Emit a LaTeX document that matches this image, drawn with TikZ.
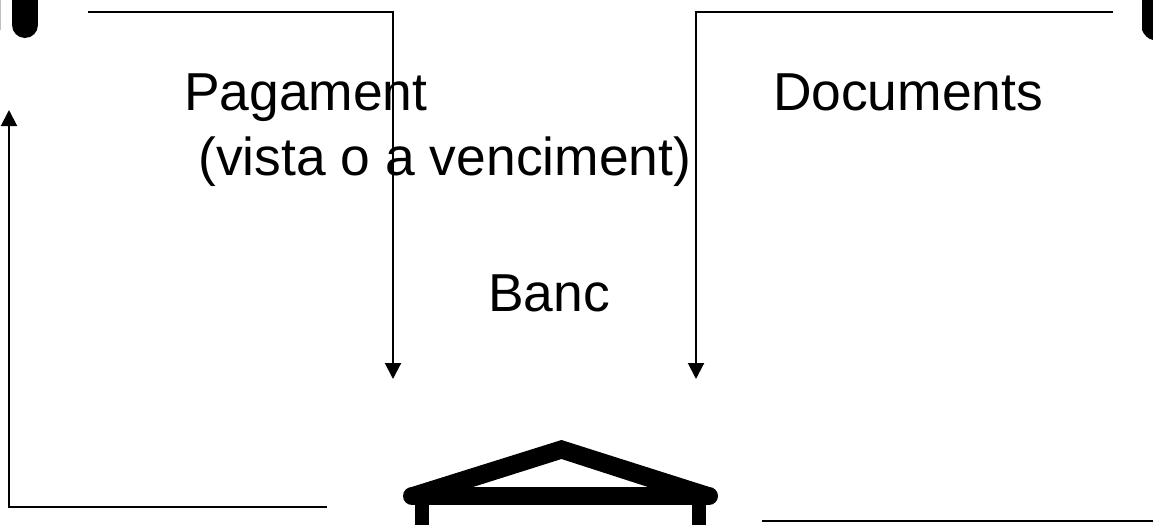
\documentclass[tikz,border=0pt]{standalone}
\usepackage{fontspec}
\setmainfont{Liberation Sans}
\usetikzlibrary{arrows.meta}
\tikzset{
  flow/.style={draw=black,line width=2pt,-{Triangle[length=16pt,width=16pt]}},
  plainline/.style={draw=black,line width=2pt},
  label/.style={anchor=base west,inner sep=0pt,outer sep=0pt,font=\fontsize{53.4pt}{60pt}\selectfont,text=black},
  icon/.style={draw=black,line width=18pt,line join=round,line cap=round}
}
\begin{document}
\begin{tikzpicture}[x=1pt,y=-1pt]
\useasboundingbox (0,0) rectangle (1153,525);
% text
\node[label] (pag) at (184,110.5) {Pagament};
\node[label] (vis) at (198.5,175.5) {(vista o a venciment)};
\node[label] (doc) at (773,110.5) {Documents};
\node[label] (ban) at (488,311) {Banc};
% connector ends
\coordinate (a1) at (88,12);
\coordinate (a2) at (393,12);
\coordinate (a3) at (393,379);
\coordinate (b1) at (1113,12);
\coordinate (b2) at (696,12);
\coordinate (b3) at (696,379);
\coordinate (c1) at (327,507);
\coordinate (c2) at (9,507);
\coordinate (c3) at (9,110);
\coordinate (d1) at (762,521);
\coordinate (d2) at (1153,521);
\draw[flow] (a1) -- (a2) -- (a3);
\draw[flow] (b1) -- (b2) -- (b3);
\draw[flow] (c1) -- (c2) -- (c3);
\draw[plainline] (d1) -- (d2);
% bank icon
\draw[icon] (412,496) -- (709,496);
\fill[black,even odd rule,line join=round]
  (561.5,440) -- (410,487.5) -- (412,496) -- (709,496) -- (711,487.5) -- cycle
  (473,487) -- (561.5,459) -- (648,487) -- cycle;
\fill[black] (415,500) rectangle (429,525);
\fill[black] (692,500) rectangle (706,525);
% cropped figures at the top corners
\draw[line width=26pt,line cap=round,draw=black] (25,-20) -- (25,25);
\fill[black!25] (0,0) rectangle (1,30);
\fill[black] (1142,0) -- (1142,30) .. controls (1144,35) and (1148,39) .. (1153,40) -- (1153,0) -- cycle;
\end{tikzpicture}
\end{document}
